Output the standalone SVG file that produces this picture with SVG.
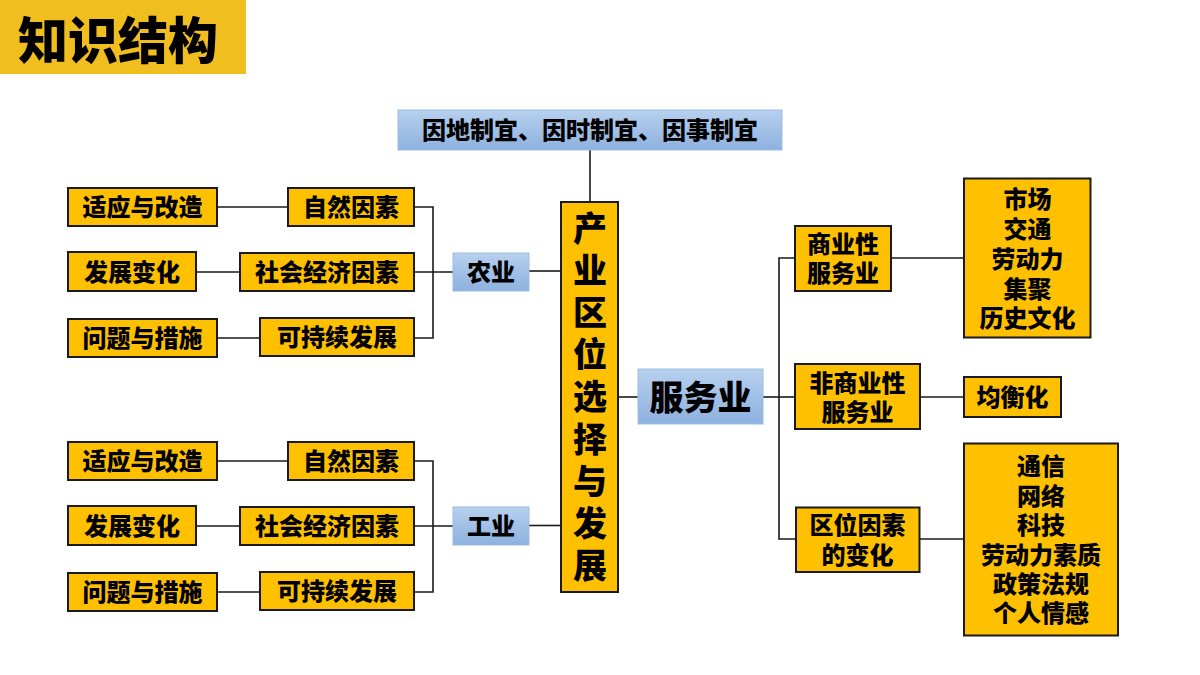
<svg xmlns="http://www.w3.org/2000/svg" width="1200" height="675" viewBox="0 0 1200 675">
<defs>
<linearGradient id="blueGrad" x1="0" y1="0" x2="0" y2="1">
<stop offset="0" stop-color="#B7D0EE"/>
<stop offset="1" stop-color="#8DB1DF"/>
</linearGradient>
<style>
.t{font-family:"Noto Sans CJK SC","Noto Sans CJK TC",sans-serif;font-weight:900;fill:#000;text-anchor:middle;dominant-baseline:central;transform:translateY(-1.5px)}
.y{fill:#FFC000;stroke:#1a1a1a;stroke-width:2}
.b{fill:url(#blueGrad);stroke:#9DBBE2;stroke-width:1}
.c{fill:none;stroke:#1a1a1a;stroke-width:1.6}
.s24{font-size:24px}
.s34{font-size:34px}
</style>
</defs>
<rect width="1200" height="675" fill="#fff"/>
<g id="title">
<rect x="0" y="0" width="246" height="74" fill="#F0BE1E"/>
<text class="t" x="118" y="38" font-size="50" font-weight="700">知识结构</text>
</g>
<g id="connectors">
<line class="c" x1="590" y1="150" x2="590" y2="202"/>
<line class="c" x1="217" y1="207" x2="288" y2="207"/>
<line class="c" x1="196" y1="272" x2="240" y2="272"/>
<line class="c" x1="217" y1="338" x2="260" y2="338"/>
<polyline class="c" points="414,207 433,207 433,338 414,338"/>
<line class="c" x1="414" y1="272" x2="453" y2="272"/>
<line class="c" x1="529" y1="271" x2="561" y2="271"/>
<line class="c" x1="217" y1="461" x2="288" y2="461"/>
<line class="c" x1="196" y1="526" x2="240" y2="526"/>
<line class="c" x1="217" y1="592" x2="260" y2="592"/>
<polyline class="c" points="414,461 433,461 433,592 414,592"/>
<line class="c" x1="414" y1="526" x2="453" y2="526"/>
<line class="c" x1="529" y1="525.5" x2="561" y2="525.5"/>
<line class="c" x1="619" y1="397" x2="638" y2="397"/>
<line class="c" x1="763" y1="397" x2="779" y2="397"/>
<polyline class="c" points="795,258 779,258 779,539 796,539"/>
<line class="c" x1="779" y1="397" x2="795" y2="397"/>
<line class="c" x1="891" y1="258" x2="964" y2="258"/>
<line class="c" x1="920" y1="397" x2="964" y2="397"/>
<line class="c" x1="919" y1="539" x2="964" y2="539"/>
</g>
<g id="top-principle">
<rect class="b" x="398" y="110" width="384" height="40"/>
<text class="t s24" x="590" y="130">因地制宜、因时制宜、因事制宜</text>
</g>
<g id="main">
<rect class="y" x="561" y="202" width="57" height="390"/>
<g class="t s34">
<text x="590" y="228">产</text>
<text x="590" y="270">业</text>
<text x="590" y="312">区</text>
<text x="590" y="354">位</text>
<text x="590" y="396">选</text>
<text x="590" y="439">择</text>
<text x="590" y="481">与</text>
<text x="590" y="523">发</text>
<text x="590" y="565">展</text>
</g>
</g>
<g id="agri">
<rect class="b" x="453" y="253" width="76" height="38"/>
<text class="t s24" x="491" y="272">农业</text>
</g>
<g id="agri-natural">
<rect class="y" x="288" y="188" width="126" height="38"/>
<text class="t s24" x="351" y="207">自然因素</text>
</g>
<g id="agri-adapt">
<rect class="y" x="68" y="188" width="149" height="38"/>
<text class="t s24" x="142.5" y="207">适应与改造</text>
</g>
<g id="agri-social">
<rect class="y" x="240" y="253" width="174" height="38"/>
<text class="t s24" x="327" y="272">社会经济因素</text>
</g>
<g id="agri-change">
<rect class="y" x="68" y="252" width="128" height="39"/>
<text class="t s24" x="132" y="271.5">发展变化</text>
</g>
<g id="agri-sustain">
<rect class="y" x="260" y="318" width="154" height="38"/>
<text class="t s24" x="337" y="337">可持续发展</text>
</g>
<g id="agri-problem">
<rect class="y" x="68" y="319" width="149" height="38"/>
<text class="t s24" x="142.5" y="338">问题与措施</text>
</g>
<g id="ind">
<rect class="b" x="453" y="507" width="76" height="38"/>
<text class="t s24" x="491" y="526">工业</text>
</g>
<g id="ind-natural">
<rect class="y" x="288" y="442" width="126" height="38"/>
<text class="t s24" x="351" y="461">自然因素</text>
</g>
<g id="ind-adapt">
<rect class="y" x="68" y="442" width="149" height="38"/>
<text class="t s24" x="142.5" y="461">适应与改造</text>
</g>
<g id="ind-social">
<rect class="y" x="240" y="507" width="174" height="38"/>
<text class="t s24" x="327" y="526">社会经济因素</text>
</g>
<g id="ind-change">
<rect class="y" x="68" y="506" width="128" height="39"/>
<text class="t s24" x="132" y="525.5">发展变化</text>
</g>
<g id="ind-sustain">
<rect class="y" x="260" y="572" width="154" height="38"/>
<text class="t s24" x="337" y="591">可持续发展</text>
</g>
<g id="ind-problem">
<rect class="y" x="68" y="573" width="149" height="38"/>
<text class="t s24" x="142.5" y="592">问题与措施</text>
</g>
<g id="service">
<rect class="b" x="638" y="369" width="125" height="55"/>
<text class="t s34" x="700.5" y="397">服务业</text>
</g>
<g id="commercial">
<rect class="y" x="795" y="226" width="96" height="65"/>
<text class="t s24" x="843" y="244">商业性</text>
<text class="t s24" x="843" y="273">服务业</text>
</g>
<g id="commercial-factors">
<rect class="y" x="964" y="178.5" width="126.5" height="159"/>
<text class="t s24" x="1027.5" y="199">市场</text>
<text class="t s24" x="1027.5" y="229">交通</text>
<text class="t s24" x="1027.5" y="258.5">劳动力</text>
<text class="t s24" x="1027.5" y="288.5">集聚</text>
<text class="t s24" x="1027.5" y="318">历史文化</text>
</g>
<g id="noncommercial">
<rect class="y" x="795" y="364" width="125" height="65"/>
<text class="t s24" x="857.5" y="383">非商业性</text>
<text class="t s24" x="857.5" y="412">服务业</text>
</g>
<g id="balance">
<rect class="y" x="964" y="377" width="97" height="40"/>
<text class="t s24" x="1012.5" y="397">均衡化</text>
</g>
<g id="factor-change">
<rect class="y" x="796" y="507.5" width="123.5" height="64.5"/>
<text class="t s24" x="857.5" y="525">区位因素</text>
<text class="t s24" x="857.5" y="555">的变化</text>
</g>
<g id="new-factors">
<rect class="y" x="964" y="443.5" width="154" height="192"/>
<text class="t s24" x="1041" y="466">通信</text>
<text class="t s24" x="1041" y="495.5">网络</text>
<text class="t s24" x="1041" y="525">科技</text>
<text class="t s24" x="1041" y="554.5">劳动力素质</text>
<text class="t s24" x="1041" y="584">政策法规</text>
<text class="t s24" x="1041" y="613">个人情感</text>
</g>
</svg>
